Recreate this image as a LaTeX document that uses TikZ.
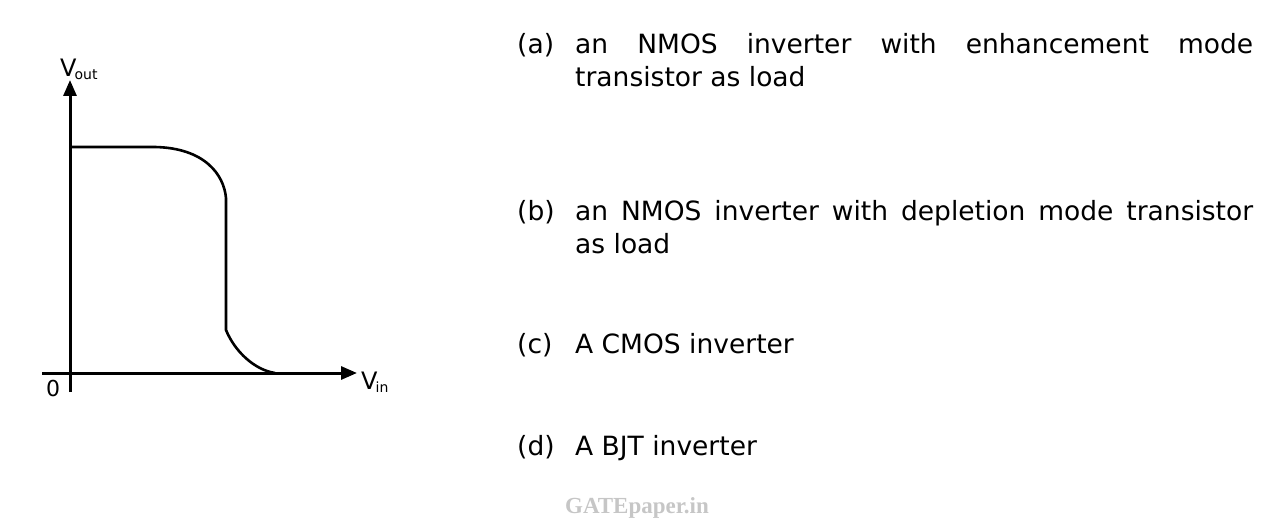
\documentclass[tikz,border=0pt]{standalone}
\usepackage{fontspec}
\setmainfont{DejaVu Sans}
\newfontfamily\wmfont{Liberation Serif}
\usetikzlibrary{arrows.meta}
\begin{document}
\begin{tikzpicture}[x=1pt,y=-1pt,
  ax/.style={line width=3pt,-{Triangle[length=16pt,width=13pt]}},
  crv/.style={line width=2.6pt},
  lbl/.style={anchor=north west,inner sep=0pt,font=\fontsize{26.5}{33}\selectfont},
  body/.style={lbl,text width=678pt,align=justify}]
\useasboundingbox (0,0) rectangle (1270,519);
\coordinate (o) at (70,373);
\coordinate (xe) at (357,373);
\coordinate (ye) at (70,80);
\draw[ax] (42,373) -- (xe);
\draw[ax] (70,392) -- (ye);
\node[anchor=west,font=\fontsize{24}{24}\selectfont,inner sep=0pt] (vin) at (361,382) {V\kern-2pt\raisebox{-3pt}{\fontsize{14}{14}\selectfont in}};
\node[anchor=west,font=\fontsize{24}{24}\selectfont,inner sep=0pt] (vout) at (60,69) {V\kern-2pt\raisebox{-3pt}{\fontsize{14}{14}\selectfont out}};
\node[font=\fontsize{22}{22}\selectfont,inner sep=0pt] (zero) at (53,388) {0};
\draw[crv] (70,147) -- (155,147) .. controls (205,148) and (224,175) .. (226,198) -- (226,330) .. controls (235,352) and (255,370) .. (275,373);
\node[lbl] (la) at (517,33) {(a)};
\node[body] (ta) at (575,33) {\hyphenpenalty=10000 an NMOS inverter with enhancement mode\linebreak transistor as load};
\node[lbl] (lb) at (517,200) {(b)};
\node[body] (tb) at (575,200) {\hyphenpenalty=10000 an NMOS inverter with depletion mode transistor\linebreak as load};
\node[lbl] (lc) at (517,333) {(c)};
\node[lbl] (tc) at (575,333) {A CMOS inverter};
\node[lbl] (ld) at (517,435) {(d)};
\node[lbl] (td) at (575,435) {A BJT inverter};
\node[font=\wmfont\bfseries\fontsize{23}{23}\selectfont,text=gray!45] (wm) at (637,508) {GATEpaper.in};
\end{tikzpicture}
\end{document}
